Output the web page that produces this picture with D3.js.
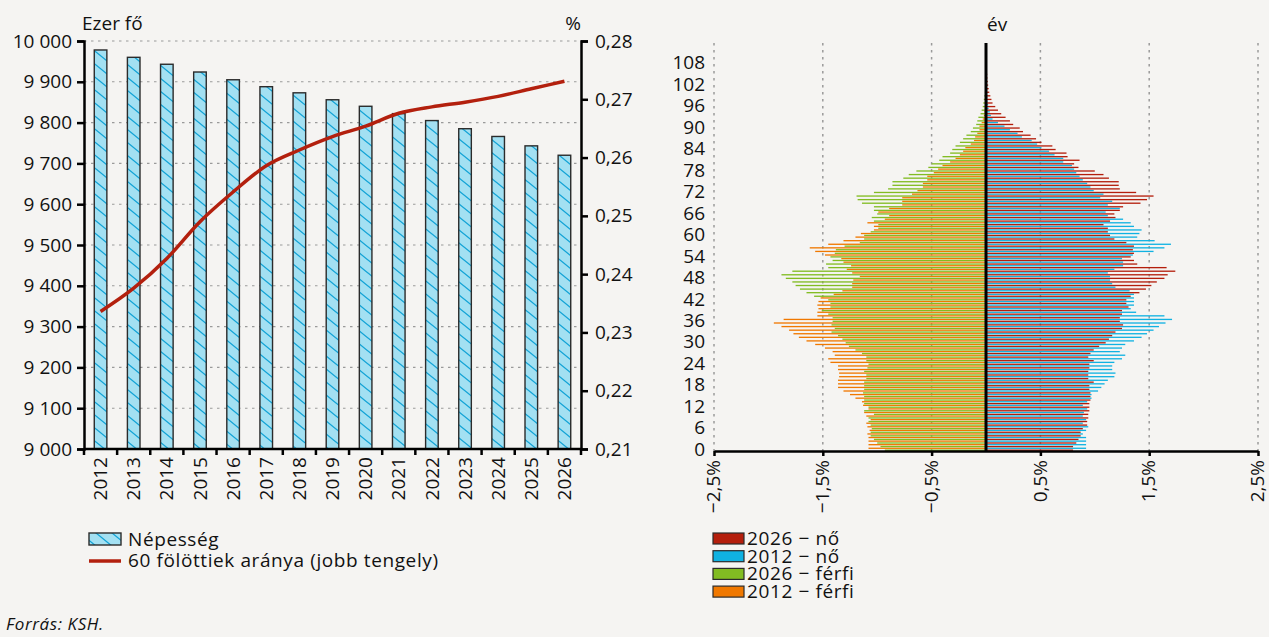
<!DOCTYPE html>
<html><head><meta charset="utf-8">
<script src="https://cdn.jsdelivr.net/npm/d3@7"></script>
<style>
body{margin:0;background:#f5f4f2;}
text{font-family:"Open Sans",sans-serif;fill:#111;}
.lg{letter-spacing:0.6px;}
</style>
</head><body>
<svg id="c" width="1269" height="637"></svg>
<script>
// ---------- DATA ----------
const years = [2012,2013,2014,2015,2016,2017,2018,2019,2020,2021,2022,2023,2024,2025,2026];
const population = [9978,9960,9943,9924,9905,9888,9873,9856,9840,9822,9805,9785,9766,9743,9720];
const share60 = [0.2336,0.2376,0.2427,0.2490,0.2541,0.2586,0.2613,0.2636,0.2654,0.2676,0.2687,0.2695,0.2705,0.2718,0.2731];
const leftTicks = [9000,9100,9200,9300,9400,9500,9600,9700,9800,9900,10000];
const rightTicks = [0.21,0.22,0.23,0.24,0.25,0.26,0.27,0.28];

const ageLabels = [0,6,12,18,24,30,36,42,48,54,60,66,72,78,84,90,96,102,108];
const pyramidTicks = [-2.5,-1.5,-0.5,0.5,1.5,2.5];
const female2026 = [
0.80,0.80,0.83,0.85,0.87,0.87,0.89,0.93,0.93,0.94,
0.94,0.95,0.95,0.95,0.96,0.96,0.96,0.95,0.95,0.99,
0.94,0.94,0.94,0.95,0.95,0.99,0.94,0.96,0.99,1.04,
1.10,1.13,1.16,1.19,1.25,1.26,1.23,1.23,1.25,1.25,
1.31,1.29,1.29,1.33,1.41,1.47,1.52,1.57,1.64,1.67,
1.74,1.66,1.39,1.36,1.33,1.36,1.35,1.36,1.29,1.18,
1.14,1.12,1.12,1.08,1.14,1.19,1.18,1.23,1.26,1.42,
1.48,1.54,1.38,1.23,1.22,1.22,1.13,1.08,1.00,0.85,
0.81,0.86,0.75,0.74,0.64,0.61,0.51,0.46,0.41,0.34,
0.31,0.25,0.22,0.18,0.14,0.11,0.085,0.06,0.05,0.04,
0.03,0.025,0.02,0.016,0.013,0.011,0.009,0.008,0.007,0.006,0.005,0.004,0.003,0.002];
const female2012 = [
0.92,0.92,0.92,0.92,0.89,0.92,0.94,0.89,0.92,0.89,
0.90,0.93,0.89,0.93,0.97,0.97,1.03,1.06,1.09,1.12,
1.18,1.19,1.16,1.16,1.18,1.25,1.28,1.23,1.25,1.28,
1.36,1.43,1.48,1.54,1.59,1.65,1.71,1.64,1.38,1.33,
1.36,1.36,1.36,1.36,1.32,1.19,1.16,1.14,1.14,1.12,
1.18,1.26,1.26,1.25,1.35,1.54,1.64,1.70,1.55,1.39,
1.41,1.43,1.36,1.33,1.26,1.12,1.10,1.23,1.12,1.16,
1.05,1.08,0.99,0.96,0.93,0.89,0.86,0.83,0.81,0.79,
0.71,0.71,0.63,0.58,0.51,0.47,0.42,0.33,0.29,0.22,
0.17,0.11,0.06,0.045,0.035,0.025,0.02,0.015,0.012,0.01,
0.008,0.007,0.006,0.005,0.004,0.003,0.003,0.002,0.002,0.002,0.001,0.001,0.001,0.001];
const male2026 = [
0.93,0.97,1.00,1.03,1.06,1.06,1.05,1.06,1.08,1.08,
1.03,1.12,1.08,1.12,1.12,1.12,1.13,1.12,1.12,1.12,
1.10,1.10,1.12,1.09,1.08,1.10,1.10,1.14,1.20,1.26,
1.29,1.32,1.36,1.42,1.39,1.42,1.41,1.41,1.45,1.51,
1.43,1.43,1.45,1.58,1.65,1.71,1.75,1.78,1.84,1.88,
1.78,1.45,1.47,1.41,1.43,1.39,1.38,1.30,1.16,1.12,
1.12,1.06,0.99,0.99,1.03,1.05,1.00,1.03,1.03,1.14,
1.18,1.19,1.03,0.90,0.86,0.86,0.76,0.71,0.64,0.53,
0.50,0.43,0.40,0.33,0.31,0.28,0.24,0.21,0.18,0.14,
0.12,0.09,0.08,0.07,0.05,0.04,0.03,0.025,0.02,0.015,
0.01,0.008,0.006,0.005,0.004,0.003,0.003,0.002,0.002,0.002,0.001,0.001,0.001,0.001];
const male2012 = [
1.08,1.08,1.08,1.08,1.09,1.07,1.09,1.10,1.06,1.10,
1.12,1.08,1.13,1.14,1.20,1.25,1.31,1.36,1.36,1.36,
1.35,1.35,1.36,1.36,1.43,1.45,1.39,1.41,1.48,1.57,
1.65,1.72,1.77,1.81,1.88,1.95,1.86,1.55,1.55,1.54,
1.55,1.54,1.52,1.40,1.32,1.23,1.23,1.22,1.16,1.23,
1.28,1.24,1.31,1.33,1.48,1.57,1.62,1.45,1.31,1.20,
1.15,1.03,1.03,1.09,0.93,0.89,0.99,0.89,0.77,0.77,
0.77,0.68,0.63,0.58,0.58,0.54,0.54,0.48,0.44,0.40,
0.33,0.28,0.24,0.21,0.19,0.14,0.11,0.10,0.08,0.06,
0.06,0.04,0.03,0.02,0.015,0.01,0.008,0.006,0.005,0.004,
0.003,0.003,0.002,0.002,0.002,0.001,0.001,0.001,0.001,0.001,0.001,0.001,0.001,0.001];
const ages = female2026.map((_, i) => i);

const legendLeft = ["Népesség", "60 fölöttiek aránya (jobb tengely)"];
const legendRight = [
  {label:"2026 − nő", color:"#b41e0c"},
  {label:"2012 − nő", color:"#10b2e2"},
  {label:"2026 − férfi", color:"#82bc22"},
  {label:"2012 − férfi", color:"#f07800"}
];

// ---------- SETUP ----------
const svg = d3.select("#c");
const FF = "Open Sans";
const FS = 19;
const loc = d3.formatLocale({decimal:",", thousands:"\u00a0", grouping:[3], currency:["",""]});
const fmtInt = loc.format(",d");
const fmtR = loc.format(".2f");

const defs = svg.append("defs");
const pat = defs.append("pattern").attr("id","hatch").attr("patternUnits","userSpaceOnUse")
  .attr("width",16).attr("height",13);
pat.append("rect").attr("width",16).attr("height",13).attr("fill","#a3e0f2");
pat.append("path").attr("d","M0,0L16,13M-8,6.5L8,19.5M8,-6.5L24,6.5")
  .attr("stroke","#11a3d6").attr("stroke-width",1.3);

// ---------- LEFT CHART ----------
const L = {x0:84, x1:581, y0:41, y1:449};
const xB = d3.scaleBand().domain(years).range([L.x0, L.x1]).paddingInner(0.62).paddingOuter(0.31);
const yL = d3.scaleLinear().domain([9000,10000]).range([L.y1, L.y0]);
const yR = d3.scaleLinear().domain([0.21,0.28]).range([L.y1, L.y0]);

// gridlines
svg.append("g").selectAll("line").data(leftTicks.slice(1)).join("line")
  .attr("x1", L.x0).attr("x2", L.x1).attr("y1", d=>yL(d)).attr("y2", d=>yL(d))
  .attr("stroke","#9a9a9a").attr("stroke-width",1.1).attr("stroke-dasharray","2.5,4.5");

// bars
svg.append("g").selectAll("rect").data(years).join("rect")
  .attr("x", d=>xB(d)).attr("width", xB.bandwidth())
  .attr("y", (d,i)=>yL(population[i])).attr("height", (d,i)=>yL(9000)-yL(population[i]))
  .attr("fill","url(#hatch)").attr("stroke","#2b2b2b").attr("stroke-width",1.4);

// line
const line = d3.line().x((d,i)=>xB(years[i])+xB.bandwidth()/2).y(d=>yR(d)).curve(d3.curveMonotoneX);
svg.append("path").datum(share60).attr("d", line).attr("fill","none")
  .attr("stroke","#b3200e").attr("stroke-width",3.5);

// left axis
const axL = svg.append("g").attr("transform",`translate(${L.x0},0)`)
  .call(d3.axisLeft(yL).tickValues(leftTicks).tickSize(7).tickPadding(5).tickFormat(fmtInt));
// right axis
const axR = svg.append("g").attr("transform",`translate(${L.x1},0)`)
  .call(d3.axisRight(yR).tickValues(rightTicks).tickSize(7).tickPadding(7).tickFormat(fmtR));
[axL, axR].forEach(a=>{
  a.select(".domain").attr("stroke","#000").attr("stroke-width",2.5);
  a.selectAll(".tick line").attr("stroke","#000").attr("stroke-width",2.5);
  a.selectAll(".tick text").style("font-size",FS+"px").style("font-family",FF).attr("fill","#111");
});
// bottom axis
const bx = svg.append("g");
bx.append("line").attr("x1",L.x0).attr("x2",L.x1).attr("y1",L.y1).attr("y2",L.y1)
  .attr("stroke","#000").attr("stroke-width",2.5);
const bounds = years.map(d=>xB(d)+xB.bandwidth()/2 - xB.step()/2).concat([L.x1]);
bx.selectAll("line.t").data(bounds).join("line").attr("class","t")
  .attr("x1",d=>d).attr("x2",d=>d).attr("y1",L.y1).attr("y2",L.y1+6)
  .attr("stroke","#000").attr("stroke-width",2.5);
bx.selectAll("text").data(years).join("text")
  .attr("transform", d=>`translate(${xB(d)+xB.bandwidth()/2},${L.y1+8}) rotate(-90)`)
  .attr("text-anchor","end").attr("dy","0.35em").style("font-size",FS+"px").text(d=>d);

svg.append("text").attr("x",82).attr("y",30).style("font-size",FS+"px").text("Ezer fő");
svg.append("text").attr("x",581).attr("y",30).attr("text-anchor","end").style("font-size",FS+"px").text("%");

// left legend
svg.append("rect").attr("x",89).attr("y",533).attr("width",32).attr("height",12)
  .attr("fill","url(#hatch)").attr("stroke","#2b2b2b").attr("stroke-width",1.4);
svg.append("text").attr("class","lg").attr("x",128).attr("y",546).style("font-size",FS+"px").text(legendLeft[0]);
svg.append("line").attr("x1",89).attr("x2",121).attr("y1",561).attr("y2",561)
  .attr("stroke","#b3200e").attr("stroke-width",3.5);
svg.append("text").attr("class","lg").attr("x",128).attr("y",567).style("font-size",FS+"px").text(legendLeft[1]);

// source
svg.append("text").attr("class","lg").attr("x",6).attr("y",630).style("font-size","17px").style("font-style","italic").text("Forrás: KSH.");

// ---------- PYRAMID ----------
const P = {x0:714, x1:1258, y0:43, y1:451};
const xP = d3.scaleLinear().domain([-2.5,2.5]).range([P.x0, P.x1]);
const yP = d3.scaleBand().domain(ages).range([P.y1, P.y0]);
const sub = d3.scaleBand().domain(["2012","2026"]).range([0, yP.bandwidth()]).paddingInner(0.3).paddingOuter(0.1);

// gridlines
svg.append("g").selectAll("line").data(pyramidTicks).join("line")
  .attr("x1",d=>xP(d)).attr("x2",d=>xP(d)).attr("y1",P.y0).attr("y2",P.y1)
  .attr("stroke","#9a9a9a").attr("stroke-width",1.5).attr("stroke-dasharray","2.5,4.5");

const series = [
  {vals:male2012, key:"2012", side:-1, color:legendRight[3].color},
  {vals:male2026, key:"2026", side:-1, color:legendRight[2].color},
  {vals:female2012, key:"2012", side:1, color:legendRight[1].color},
  {vals:female2026, key:"2026", side:1, color:legendRight[0].color}
];
series.forEach(s=>{
  svg.append("g").selectAll("rect").data(ages).join("rect")
    .attr("x", a=> s.side<0 ? xP(-s.vals[a]) : xP(0))
    .attr("width", a=> Math.abs(xP(s.side*s.vals[a]) - xP(0)))
    .attr("y", a=> yP(a) + sub(s.key))
    .attr("height", sub.bandwidth())
    .attr("fill", s.color);
});

// center line
svg.append("line").attr("x1",xP(0)).attr("x2",xP(0)).attr("y1",P.y0).attr("y2",P.y1)
  .attr("stroke","#000").attr("stroke-width",3);

// bottom axis
const axP = svg.append("g").attr("transform",`translate(0,${P.y1})`)
  .call(d3.axisBottom(xP).tickValues(pyramidTicks).tickSize(5).tickSizeOuter(0)
    .tickFormat(v=>(v<0?"\u2212":"")+Math.abs(v).toFixed(1).replace(".",",")+"%"));
axP.select(".domain").attr("stroke","#000").attr("stroke-width",2.5);
axP.selectAll(".tick line").attr("stroke","#000").attr("stroke-width",2.5);
axP.selectAll(".tick text").style("font-size",FS+"px").style("font-family",FF).attr("fill","#111")
  .attr("transform","rotate(-90)").attr("text-anchor","end").attr("x",-9).attr("y",0).attr("dy","0.3em");

// age labels
svg.append("g").selectAll("text").data(ageLabels).join("text")
  .attr("x",705).attr("y",a=>yP(a)+yP.bandwidth()/2).attr("dy","0.35em")
  .attr("text-anchor","end").style("font-size",FS+"px").text(d=>d);

svg.append("text").attr("x",987).attr("y",31).style("font-size",FS+"px").text("év");

// right legend
const lg = svg.append("g").selectAll("g").data(legendRight).join("g")
  .attr("transform",(d,i)=>`translate(713,${533+i*17.7})`);
lg.append("rect").attr("width",31).attr("height",11).attr("fill",d=>d.color)
  .attr("stroke","#2b2b2b").attr("stroke-width",1.2);
lg.append("text").attr("class","lg").attr("x",34).attr("y",12).style("font-size",FS+"px").text(d=>d.label);
</script>
</body></html>
